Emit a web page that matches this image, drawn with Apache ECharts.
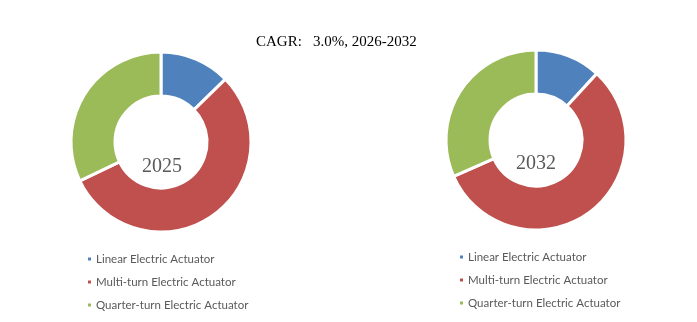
<!DOCTYPE html>
<html><head><meta charset="utf-8">
<script src="https://cdn.jsdelivr.net/npm/echarts@6/dist/echarts.min.js"></script>
<style>html,body{margin:0;padding:0;background:#fff}#c{width:697px;height:322px}</style>
</head><body><div id="c"></div>
<script>
const categories = ['Linear Electric Actuator', 'Multi-turn Electric Actuator', 'Quarter-turn Electric Actuator'];
const values2025 = [12.7, 55.2, 32.1];
const values2032 = [11.8, 56.6, 31.6];
const years = ['2025', '2032'];
const colors = ['#4F81BD', '#C0504D', '#9BBB59'];

const chart = echarts.init(document.getElementById('c'));
function mk(vals) { return categories.map((n, i) => ({ name: n, value: vals[i] })); }
const pieCommon = {
  type: 'pie', radius: [46, 90], startAngle: 90, clockwise: true,
  label: { show: false }, labelLine: { show: false }, silent: true,
  itemStyle: { borderColor: '#fff', borderWidth: 3 }
};
const legendText = { fontFamily: 'Lato', fontSize: 11.5, color: '#595959', padding: [0, 0, 0, -1] };
chart.setOption({
  animation: false,
  color: colors,
  title: [
    { text: 'CAGR:   3.0%, 2026-2032', left: 251, top: 30,
      textStyle: { fontFamily: 'Liberation Serif', fontWeight: 'normal', fontSize: 15, color: '#000' } },
    { text: years[0], left: 162, top: 157, textAlign: 'center', padding: 0,
      textStyle: { fontFamily: 'Liberation Serif', fontWeight: 'normal', fontSize: 20, color: '#595959' } },
    { text: years[1], left: 536, top: 154, textAlign: 'center', padding: 0,
      textStyle: { fontFamily: 'Liberation Serif', fontWeight: 'normal', fontSize: 20, color: '#595959' } }
  ],
  legend: [
    { orient: 'vertical', left: 81, top: 248, itemWidth: 5, itemHeight: 5, itemGap: 11,
      icon: 'rect', data: categories, textStyle: legendText },
    { orient: 'vertical', left: 453, top: 246, itemWidth: 5, itemHeight: 5, itemGap: 11,
      icon: 'rect', data: categories, textStyle: legendText }
  ],
  series: [
    Object.assign({}, pieCommon, { name: years[0], center: [161, 142], data: mk(values2025) }),
    Object.assign({}, pieCommon, { name: years[1], center: [536, 140], data: mk(values2032) })
  ]
});
</script></body></html>
